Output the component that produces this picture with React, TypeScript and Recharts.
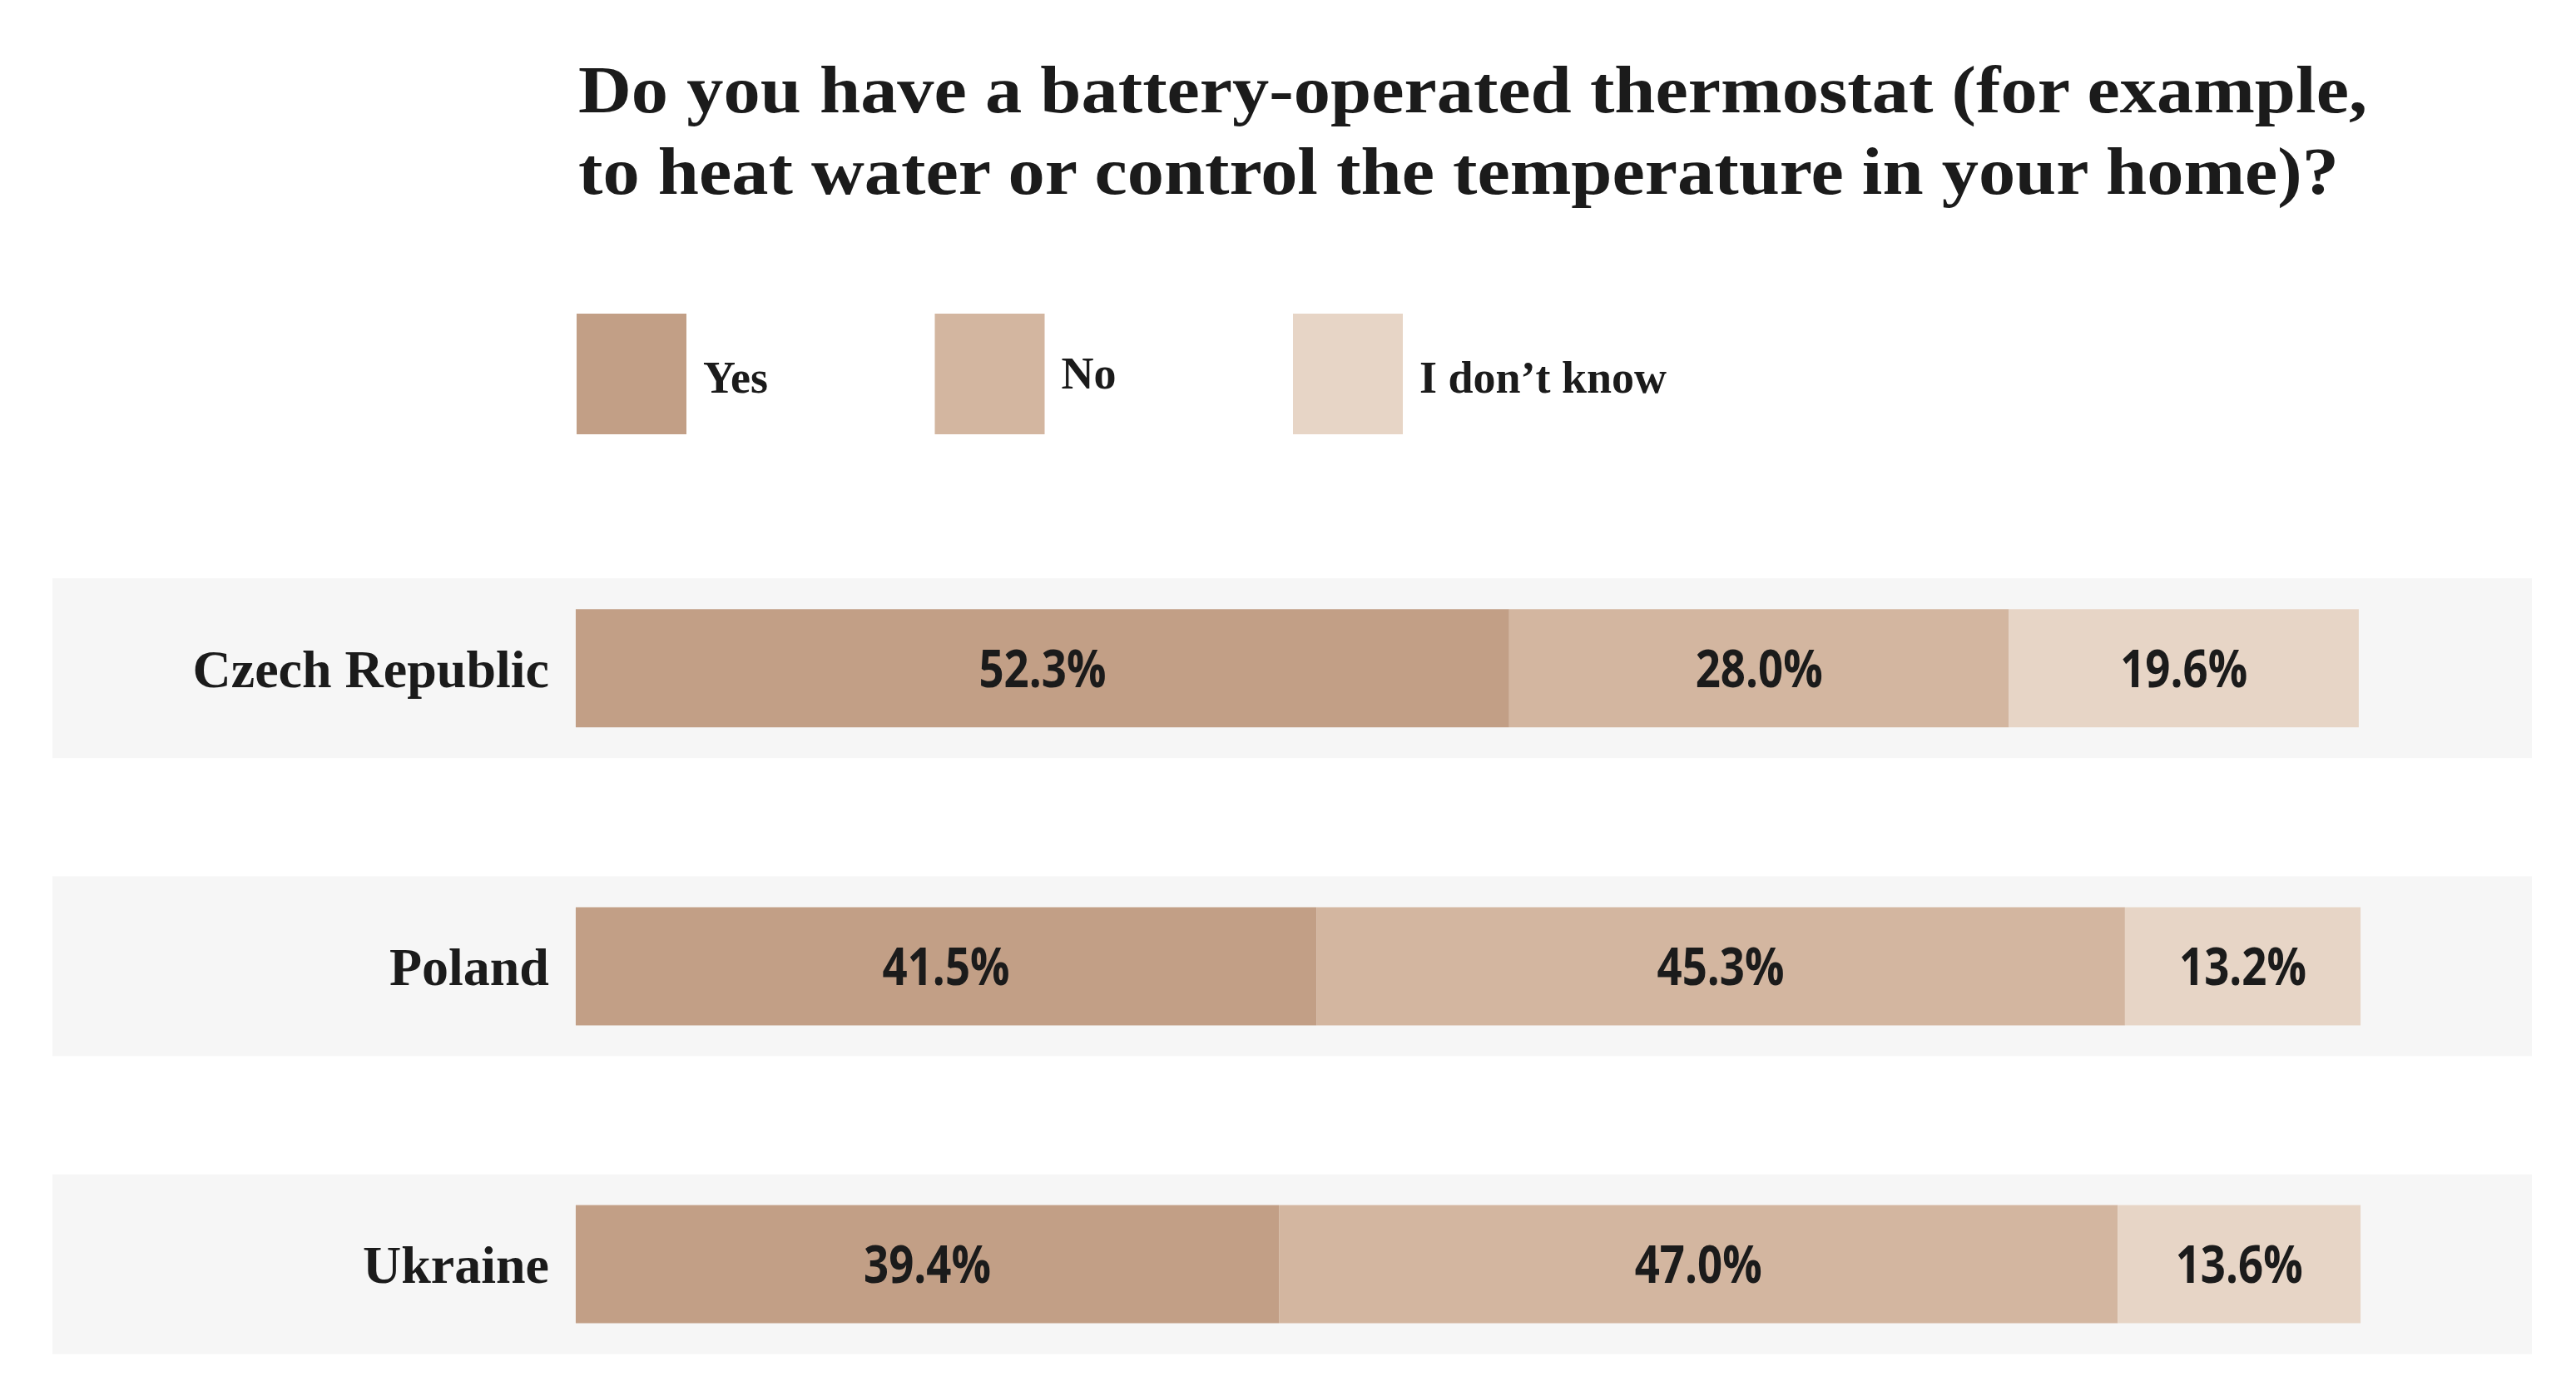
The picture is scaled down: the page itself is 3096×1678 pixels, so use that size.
import React from 'react';
import { BarChart, Bar, XAxis, YAxis, LabelList } from 'recharts';

// ---- data ----
const countries = ['Czech Republic', 'Poland', 'Ukraine'];
const yesValues = [52.3, 41.5, 39.4];
const noValues = [28.0, 45.3, 47.0];
const dontKnowValues = [19.6, 13.2, 13.6];
const seriesKeys = ['yes', 'no', 'dk'];
const seriesNames = ['Yes', 'No', 'I don\u2019t know'];
const seriesColors = ['#C29F86', '#D3B6A0', '#E7D5C6'];
const titleLines = [
  'Do you have a battery-operated thermostat (for example,',
  'to heat water or control the temperature in your home)?',
];
const titleLineWidths = [2150, 2116];

const data = countries.map((country, i) => ({
  country,
  idx: i,
  yes: yesValues[i],
  no: noValues[i],
  dk: dontKnowValues[i],
}));

const W = 3080;
const H = 1662;
const SERIF = "'Liberation Serif', 'Times New Roman', serif";
const SANS = "'Open Sans', 'Liberation Sans', sans-serif";
const TEXT = '#1b1b1b';

const fmt = (v: any) => `${Number(v).toFixed(1)}%`;

const Band = (props: any) => {
  const { x, y, width, height } = props;
  return <rect x={x} y={y - 37} width={width} height={height + 74} fill="#F6F6F6" />;
};

export default function App() {
  return (
    <div style={{ position: 'relative', width: W, height: H, background: '#ffffff' }}>
      <BarChart
        width={W}
        height={H}
        data={data}
        layout="vertical"
        margin={{ top: 652, right: 45, bottom: 7, left: 55 }}
      >
        <XAxis type="number" hide domain={[-29.32, 109.6]} />
        <YAxis type="number" dataKey="idx" hide domain={[-0.4, 2.4]} ticks={[0, 1, 2]} />
        {seriesKeys.map((k, i) => (
          <Bar
            key={k}
            dataKey={k}
            name={seriesNames[i]}
            stackId="a"
            fill={seriesColors[i]}
            barSize={142}
            isAnimationActive={false}
            background={i === 0 ? Band : undefined}
          >
            <LabelList
              dataKey={k}
              position="center"
              formatter={fmt}
              fill={TEXT}
              fontSize={63}
              fontFamily={SANS}
              fontWeight={700}
              textLength={153}
              lengthAdjust="spacingAndGlyphs"
            />
            {i === 0 ? (
              <LabelList
                dataKey="country"
                position="left"
                offset={32}
                fill={TEXT}
                fontSize={64}
                fontFamily={SERIF}
                fontWeight={700}
              />
            ) : null}
          </Bar>
        ))}
      </BarChart>
      <svg
        width={W}
        height={560}
        style={{ position: 'absolute', left: 0, top: 0, pointerEvents: 'none' }}
      >
        {titleLines.map((line, i) => (
          <text
            key={i}
            x={687}
            y={127 + i * 98}
            fill={TEXT}
            fontSize={81}
            fontFamily={SERIF}
            fontWeight={700}
            textLength={titleLineWidths[i]}
            lengthAdjust="spacingAndGlyphs"
          >
            {line}
          </text>
        ))}
        {seriesNames.map((name, i) => (
          <g key={name}>
            <rect x={685 + i * 430.5} y={369} width={132} height={145} fill={seriesColors[i]} />
            <text
              x={685 + i * 430.5 + 152}
              y={i === 1 ? 459 : 464}
              fill={TEXT}
              fontSize={54}
              fontFamily={SERIF}
              fontWeight={700}
            >
              {name}
            </text>
          </g>
        ))}
      </svg>
    </div>
  );
}
